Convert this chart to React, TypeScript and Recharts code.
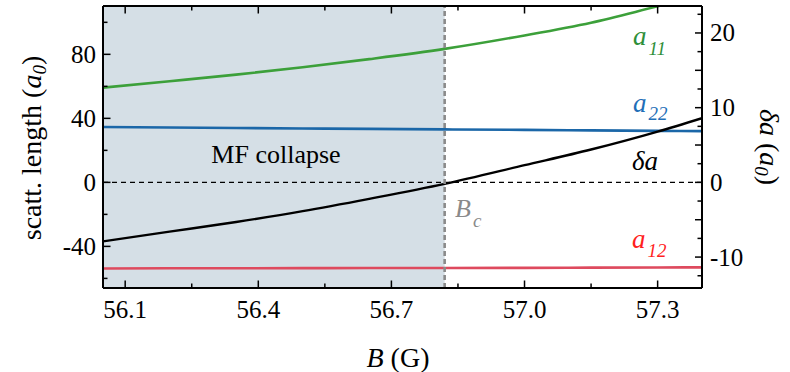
import React from 'react';
import { ComposedChart, Line, XAxis, YAxis, ReferenceArea, ReferenceLine } from 'recharts';

// ---- data ----
const B = [56.05, 56.2, 56.35, 56.5, 56.65, 56.82, 57.0, 57.15, 57.3, 57.4];
const a11 = [59.2, 63.2, 67.3, 71.9, 77.0, 83.4, 91.8, 99.8, 110.0, 116.8];
const a22 = [34.6, 34.3, 34.0, 33.7, 33.4, 33.1, 32.8, 32.5, 32.2, 32.0];
const a12 = [-53.8, -53.7, -53.7, -53.6, -53.5, -53.5, -53.4, -53.3, -53.2, -53.1];
const deltaA = [-7.9, -6.6, -5.3, -3.85, -2.2, -0.2, 2.3, 4.4, 6.8, 8.6];
const Bc = 56.82;

const xDomain: [number, number] = [56.05, 57.4];
const leftDomain: [number, number] = [-66, 110.2];
const rightDomain: [number, number] = [-14.14, 23.61];

const xTicks = [56.1, 56.25, 56.4, 56.55, 56.7, 56.85, 57.0, 57.15, 57.3];
const xLabels = [56.1, 56.4, 56.7, 57.0, 57.3];
const leftTicks = [-60, -40, -20, 0, 20, 40, 60, 80, 100];
const leftLabels = [-40, 0, 40, 80];
const rightTicks = [-12.5, -10, -7.5, -5, -2.5, 0, 2.5, 5, 7.5, 10, 12.5, 15, 17.5, 20, 22.5];
const rightLabels = [-10, 0, 10, 20];
const rightMajor = [-10, -5, 0, 5, 10, 15, 20];

const data = B.map((b, i) => ({ B: b, a11: a11[i], a22: a22[i], a12: a12[i], deltaA: deltaA[i] }));

const FONT = '"Liberation Serif", "Times New Roman", serif';
const isIn = (arr: number[], v: number) => arr.some((a) => Math.abs(a - v) < 1e-6);

const BottomTick = (props: any) => {
  const { x, y, payload } = props;
  const major = isIn(xLabels, payload.value);
  return (
    <g>
      <line x1={x} x2={x} y1={y} y2={y - (major ? 7.5 : 4.5)} stroke="#000" strokeWidth={1.5} />
      {major && (
        <text x={x} y={y + 30} textAnchor="middle" fontSize={25} fontFamily={FONT} fill="#000">
          {payload.value.toFixed(1)}
        </text>
      )}
    </g>
  );
};

const TopTick = (props: any) => {
  const { x, y, payload } = props;
  const major = isIn(xLabels, payload.value);
  return <line x1={x} x2={x} y1={y} y2={y + (major ? 7.5 : 4.5)} stroke="#000" strokeWidth={1.5} />;
};

const LeftTick = (props: any) => {
  const { x, y, payload } = props;
  const major = isIn(leftLabels, payload.value);
  return (
    <g>
      <line x1={x} x2={x + (major ? 7.5 : 4.5)} y1={y} y2={y} stroke="#000" strokeWidth={1.5} />
      {major && (
        <text x={x - 7} y={y + 8.5} textAnchor="end" fontSize={25} fontFamily={FONT} fill="#000">
          {String(payload.value)}
        </text>
      )}
    </g>
  );
};

const RightTick = (props: any) => {
  const { x, y, payload } = props;
  const major = isIn(rightMajor, payload.value);
  const label = isIn(rightLabels, payload.value);
  return (
    <g>
      <line x1={x} x2={x - (major ? 7 : 4.5)} y1={y} y2={y} stroke="#000" strokeWidth={1.5} />
      {label && (
        <text x={x + 8} y={y + 8.5} textAnchor="start" fontSize={25} fontFamily={FONT} fill="#000">
          {String(payload.value)}
        </text>
      )}
    </g>
  );
};

const axisLine = { stroke: '#000', strokeWidth: 2 };

export default function App() {
  return (
    <div style={{ position: 'absolute', left: 0, top: 0, width: 790, height: 372, background: '#fff' }}>
      <ComposedChart width={790} height={372} data={data} margin={{ top: 0, right: 0, bottom: 0, left: 0 }}>
        <XAxis
          xAxisId="bottom"
          dataKey="B"
          type="number"
          domain={xDomain}
          ticks={xTicks}
          interval={0}
          allowDataOverflow
          height={84}
          tickSize={0}
          tickMargin={0}
          tick={BottomTick}
          axisLine={axisLine}
        />
        <XAxis
          xAxisId="top"
          dataKey="B"
          orientation="top"
          type="number"
          domain={xDomain}
          ticks={xTicks}
          interval={0}
          allowDataOverflow
          height={6}
          tickSize={0}
          tickMargin={0}
          tick={TopTick}
          axisLine={axisLine}
        />
        <YAxis
          yAxisId="left"
          type="number"
          domain={leftDomain}
          ticks={leftTicks}
          interval={0}
          allowDataOverflow
          width={103}
          tickSize={0}
          tickMargin={0}
          tick={LeftTick}
          axisLine={axisLine}
        />
        <YAxis
          yAxisId="right"
          orientation="right"
          type="number"
          domain={rightDomain}
          ticks={rightTicks}
          interval={0}
          allowDataOverflow
          width={88}
          tickSize={0}
          tickMargin={0}
          tick={RightTick}
          axisLine={axisLine}
        />
        <ReferenceArea
          xAxisId="bottom"
          yAxisId="left"
          x1={xDomain[0]}
          x2={Bc}
          fill="#d5dfe6"
          fillOpacity={1}
          stroke="none"
          ifOverflow="hidden"
        />
        <ReferenceLine xAxisId="bottom" yAxisId="left" y={0} stroke="#000" strokeWidth={1.3} strokeDasharray="5 4" />
        <Line xAxisId="bottom" yAxisId="left" type="monotone" dataKey="a11" stroke="#3ca03a" strokeWidth={2.6} dot={false} isAnimationActive={false} />
        <Line xAxisId="bottom" yAxisId="left" type="monotone" dataKey="a22" stroke="#1b67a8" strokeWidth={2.6} dot={false} isAnimationActive={false} />
        <Line xAxisId="bottom" yAxisId="left" type="monotone" dataKey="a12" stroke="#de4a5e" strokeWidth={2.6} dot={false} isAnimationActive={false} />
        <Line xAxisId="bottom" yAxisId="right" type="monotone" dataKey="deltaA" stroke="#000" strokeWidth={2.4} dot={false} isAnimationActive={false} />
        <ReferenceLine xAxisId="bottom" yAxisId="left" x={Bc} stroke="#8a8a8a" strokeWidth={2.6} strokeDasharray="5 3" />
      </ComposedChart>
      <svg width={790} height={372} style={{ position: 'absolute', left: 0, top: 0, pointerEvents: 'none' }} fontFamily={FONT}>
        <text x={41} y={148} transform="rotate(-90 41 148)" textAnchor="middle" fontSize={28} fill="#000">
          scatt. length (<tspan fontStyle="italic">a</tspan>
          <tspan fontStyle="italic" fontSize={19} dy={5}>0</tspan>
          <tspan dy={-5}>)</tspan>
        </text>
        <text x={760} y={147} transform="rotate(90 760 147)" textAnchor="middle" fontSize={28} fill="#000">
          <tspan fontStyle="italic">δa</tspan> (<tspan fontStyle="italic">a</tspan>
          <tspan fontStyle="italic" fontSize={19} dy={5}>0</tspan>
          <tspan dy={-5}>)</tspan>
        </text>
        <text x={398} y={367} textAnchor="middle" fontSize={28} fill="#000">
          <tspan fontStyle="italic">B</tspan> (G)
        </text>
        <text x={276} y={163} textAnchor="middle" fontSize={26} fill="#000">MF collapse</text>
        <text x={633} y={45} fontSize={27} fill="#2f8f3a" fontStyle="italic">
          a<tspan fontSize={19} dx={2} dy={10}>11</tspan>
        </text>
        <text x={633} y={112} fontSize={27} fill="#1f6fb8" fontStyle="italic">
          a<tspan fontSize={19} dx={2} dy={8}>22</tspan>
        </text>
        <text x={632} y={170} fontSize={27} fill="#000" fontStyle="italic">δa</text>
        <text x={632} y={248} fontSize={27} fill="#ff1f1f" fontStyle="italic">
          a<tspan fontSize={19} dx={2} dy={9}>12</tspan>
        </text>
        <text x={455} y={217} fontSize={26} fill="#8a8a8a" fontStyle="italic">
          B<tspan fontSize={19} dx={2} dy={10}>c</tspan>
        </text>
      </svg>
    </div>
  );
}
